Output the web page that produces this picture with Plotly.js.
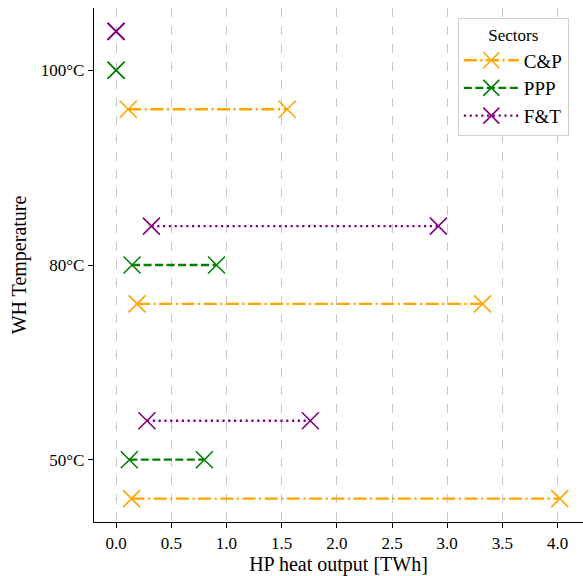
<!DOCTYPE html>
<html>
<head>
<meta charset="utf-8">
<script src="https://cdn.plot.ly/plotly-3.0.1.min.js"></script>
<style>html,body{margin:0;padding:0;background:#fff;}#chart{width:583px;height:576px;}</style>
</head>
<body>
<div id="chart"></div>
<script>
const categories = ["50°C", "80°C", "100°C"];
const sectors = ["C&P", "PPP", "F&T"];
const cpStart  = [0.14, 0.19, 0.11];
const cpEnd    = [4.02, 3.32, 1.55];
const pppStart = [0.12, 0.145, 0.0];
const pppEnd   = [0.80, 0.91, 0.0];
const ftStart  = [0.28, 0.32, 0.0];
const ftEnd    = [1.76, 2.92, 0.0];
const xTicks = [0, 0.5, 1, 1.5, 2, 2.5, 3, 3.5, 4];

const styles = [
  {color: "#FFA500", dash: "13px,3.5px,2.2px,3.5px", offset: -0.2},
  {color: "#008000", dash: "8px,3.5px", offset: 0},
  {color: "#800080", dash: "2.2px,3.6px", offset: 0.2}
];
const starts = [cpStart, pppStart, ftStart];
const ends = [cpEnd, pppEnd, ftEnd];

const traces = sectors.map((name, k) => {
  const xs = [], ys = [];
  categories.forEach((c, i) => {
    xs.push(starts[k][i], ends[k][i], null);
    const y = i + styles[k].offset;
    ys.push(y, y, null);
  });
  return {
    type: "scatter", mode: "lines+markers", name: name,
    x: xs, y: ys, connectgaps: false,
    line: {color: styles[k].color, width: 2.3, dash: styles[k].dash},
    marker: {symbol: "x-thin", size: 17, line: {color: styles[k].color, width: 1.6}, color: styles[k].color}
  };
});

const font = {family: "Liberation Serif, Times New Roman, serif", color: "#000"};
const layout = {
  width: 583, height: 576,
  margin: {l: 94, r: 0, t: 8, b: 54},
  paper_bgcolor: "#fff", plot_bgcolor: "#fff",
  font: Object.assign({size: 17}, font),
  showlegend: true,
  xaxis: {
    range: [-0.2, 4.23], tickvals: xTicks, ticktext: xTicks.map(v => v.toFixed(1)),
    showgrid: true, gridcolor: "#c8c8c8", griddash: "dash", gridwidth: 1,
    zeroline: false, showline: true, linecolor: "#000", linewidth: 1.2,
    ticks: "outside", ticklen: 5, tickcolor: "#000",
    tickfont: Object.assign({size: 17}, font),
    title: {text: "HP heat output [TWh]", font: Object.assign({size: 20}, font), standoff: 6}
  },
  yaxis: {
    range: [-0.32, 2.32], tickvals: [0, 1, 2], ticktext: categories,
    showgrid: false, zeroline: false, showline: true, linecolor: "#000", linewidth: 1.2,
    ticks: "outside", ticklen: 5, tickcolor: "#000",
    tickfont: Object.assign({size: 17}, font),
    title: {text: "WH Temperature", font: Object.assign({size: 20}, font), standoff: 8}
  },
  legend: {
    x: 0.744, y: 0.98, xanchor: "left", yanchor: "top",
    bgcolor: "rgba(255,255,255,0.85)", bordercolor: "#d0d0d0", borderwidth: 1,
    font: Object.assign({size: 19}, font),
    title: {text: "Sectors", font: Object.assign({size: 17}, font), side: "top center"},
    itemwidth: 55
  }
};

Plotly.newPlot("chart", traces, layout, {displayModeBar: false, staticPlot: true});
</script>
</body>
</html>
